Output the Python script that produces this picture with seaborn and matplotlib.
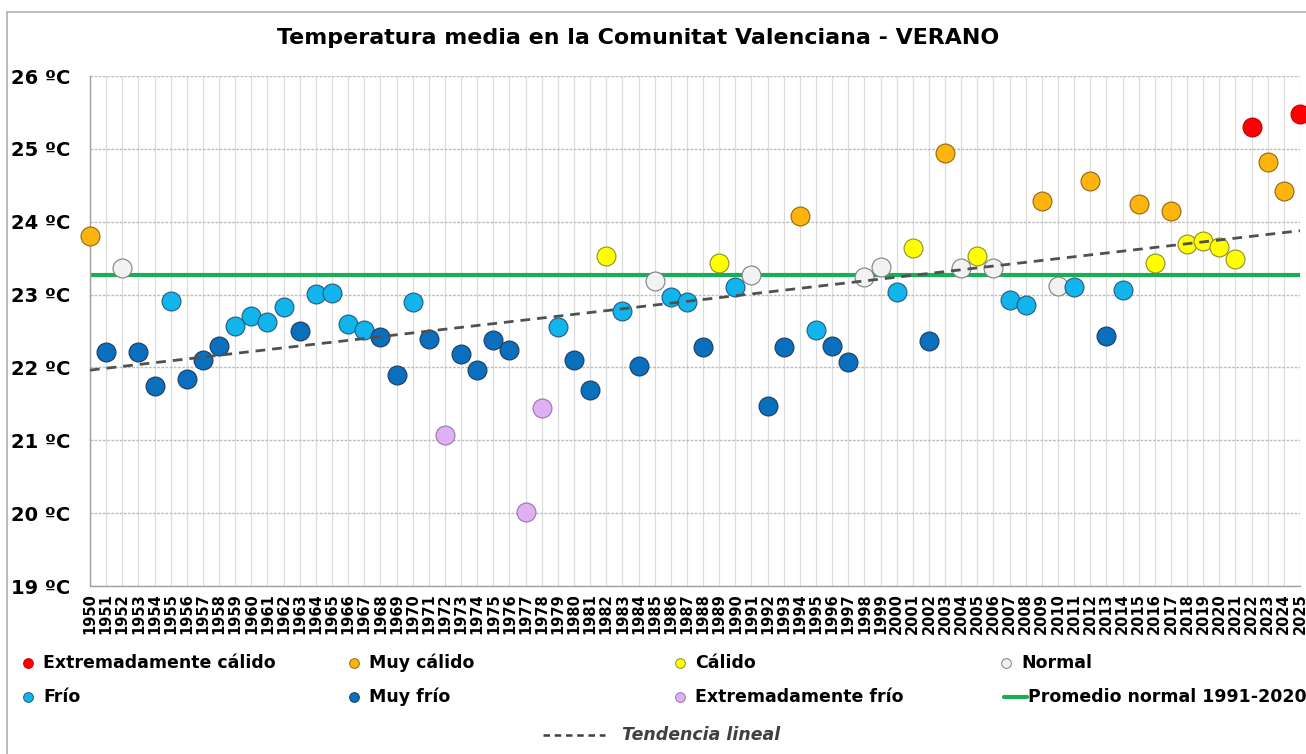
import numpy as np
import pandas as pd
import matplotlib.pyplot as plt
import seaborn as sns
from matplotlib.lines import Line2D
from matplotlib.patches import Rectangle

# datos --------------------------------------------------------
years = list(range(1950, 2026))
temps = [23.81, 22.21, 23.36, 22.21, 21.74, 22.91, 21.84, 22.10, 22.30, 22.57,
         22.71, 22.62, 22.83, 22.50, 23.01, 23.02, 22.59, 22.51, 22.42, 21.90,
         22.90, 22.39, 21.07, 22.18, 21.96, 22.38, 22.24, 20.02, 21.44, 22.55,
         22.10, 21.69, 23.53, 22.78, 22.02, 23.19, 22.97, 22.90, 22.28, 23.43,
         23.11, 23.27, 21.47, 22.28, 24.08, 22.52, 22.30, 22.08, 23.24, 23.38,
         23.03, 23.64, 22.36, 24.95, 23.36, 23.53, 23.36, 22.92, 22.86, 24.28,
         23.12, 23.10, 24.56, 22.43, 23.06, 24.25, 23.43, 24.15, 23.70, 23.74,
         23.65, 23.49, 25.30, 24.82, 24.42, 25.48]
cats = ['MC', 'MF', 'N', 'MF', 'MF', 'F', 'MF', 'MF', 'MF', 'F',
        'F', 'F', 'F', 'MF', 'F', 'F', 'F', 'F', 'MF', 'MF',
        'F', 'MF', 'EF', 'MF', 'MF', 'MF', 'MF', 'EF', 'EF', 'F',
        'MF', 'MF', 'C', 'F', 'MF', 'N', 'F', 'F', 'MF', 'C',
        'F', 'N', 'MF', 'MF', 'MC', 'F', 'MF', 'MF', 'N', 'N',
        'F', 'C', 'MF', 'MC', 'N', 'C', 'N', 'F', 'F', 'MC',
        'N', 'F', 'MC', 'MF', 'F', 'MC', 'C', 'MC', 'C', 'C',
        'C', 'C', 'EC', 'MC', 'MC', 'EC']
normal_91_20 = 23.27
y_ticks = [19, 20, 21, 22, 23, 24, 25, 26]

cat_names = {'EC': 'Extremadamente cálido', 'MC': 'Muy cálido', 'C': 'Cálido', 'N': 'Normal',
             'F': 'Frío', 'MF': 'Muy frío', 'EF': 'Extremadamente frío'}
fill = {'EC': '#ff0000', 'MC': '#ffb30f', 'C': '#ffff00', 'N': '#f2f2f2',
        'F': '#12b4ec', 'MF': '#0a6fbd', 'EF': '#dfb1f4'}
edge = {'EC': '#c00000', 'MC': '#8c6a10', 'C': '#8c8c30', 'N': '#7f7f7f',
        'F': '#1f5b80', 'MF': '#1f3a60', 'EF': '#9673a8'}

df = pd.DataFrame({'year': years, 'temp': temps, 'cat': cats})

W, H = 1306, 754
sns.set_style('white')
plt.rcParams['font.family'] = ['DejaVu Sans']
plt.rcParams['text.color'] = 'black'
plt.rcParams['xtick.labelcolor'] = 'black'
plt.rcParams['ytick.labelcolor'] = 'black'

fig = plt.figure(figsize=(W / 100, H / 100), dpi=100)
ax = fig.add_axes([90 / W, 1 - 586 / H, 1210 / W, 510 / H])

# grid
for yr in years:
    ax.axvline(yr, color='#dcdcdc', lw=0.9, zorder=0)
for t in y_ticks:
    ax.axhline(t, color='#bdbdbd', lw=1, ls=(0, (2, 1)), zorder=0.5)

# promedio normal
ax.axhline(normal_91_20, color='#19ad55', lw=3, zorder=1)

# puntos por categoria
for c in fill:
    sub = df[df['cat'] == c]
    sns.scatterplot(data=sub, x='year', y='temp', ax=ax, s=185, color=fill[c],
                    edgecolor=edge[c], linewidth=0.8, zorder=3, clip_on=False, legend=False)

# tendencia lineal
k, b = np.polyfit(years, temps, 1)
xs = np.array([years[0], years[-1]])
ax.plot(xs, k * xs + b, color='#505050', lw=2, ls=(0, (3.5, 2.5)), zorder=4)

ax.set_xlim(years[0], years[-1])
ax.set_ylim(19, 26)
ax.set_xticks(years)
ax.set_xticklabels([str(y) for y in years], rotation=90, fontsize=10.5, fontweight='bold')
ax.set_yticks(y_ticks)
ax.set_yticklabels([f'{t} ºC' for t in y_ticks], fontsize=14, fontweight='bold')
ax.tick_params(axis='x', length=5, width=0.8, color='#a0a0a0', pad=0)
ax.tick_params(axis='y', length=6, width=0.8, color='#a0a0a0', pad=8)
ax.set_xlabel('')
ax.set_ylabel('')
for s in ['top', 'right']:
    ax.spines[s].set_visible(False)
for s in ['left', 'bottom']:
    ax.spines[s].set_color('#a0a0a0')
    ax.spines[s].set_linewidth(1)

fig.text(638 / W, 1 - 38 / H, 'Temperatura media en la Comunitat Valenciana - VERANO',
         ha='center', va='center', fontsize=15.9, fontweight='bold')

# leyenda
def fx(px):
    return px / W

def fy(py):
    return 1 - py / H

col_x = [28, 354, 680, 1006]
entries = [('EC', 0, 663), ('MC', 1, 663), ('C', 2, 663), ('N', 3, 663),
           ('F', 0, 697), ('MF', 1, 697), ('EF', 2, 697)]
for c, ci, py in entries:
    px = col_x[ci]
    fig.add_artist(Line2D([fx(px)], [fy(py)], marker='o', ms=7, mfc=fill[c], mec=edge[c],
                          mew=0.7, transform=fig.transFigure))
    fig.text(fx(px + 15), fy(py), cat_names[c], ha='left', va='center',
             fontsize=12.5, fontweight='bold')
fig.add_artist(Line2D([fx(col_x[3] - 2), fx(col_x[3] + 21)], [fy(697), fy(697)],
                      color='#19ad55', lw=3, transform=fig.transFigure))
fig.text(fx(col_x[3] + 22), fy(697), 'Promedio normal 1991-2020', ha='left', va='center',
         fontsize=12.5, fontweight='bold')
fig.add_artist(Line2D([fx(543), fx(605)], [fy(735), fy(735)], color='#404040', lw=1.8,
                      ls=(0, (2.6, 1.9)), transform=fig.transFigure))
fig.text(fx(622), fy(735), 'Tendencia lineal', ha='left', va='center', fontsize=12.5,
         fontweight='bold', style='italic', color='#404040')

# marco
fig.add_artist(Rectangle((fx(7), -0.1), 1.2, fy(12) + 0.1, fill=False, ec='#b0b0b0', lw=1.2,
                         transform=fig.transFigure))

fig.savefig('out.png', dpi=100)
